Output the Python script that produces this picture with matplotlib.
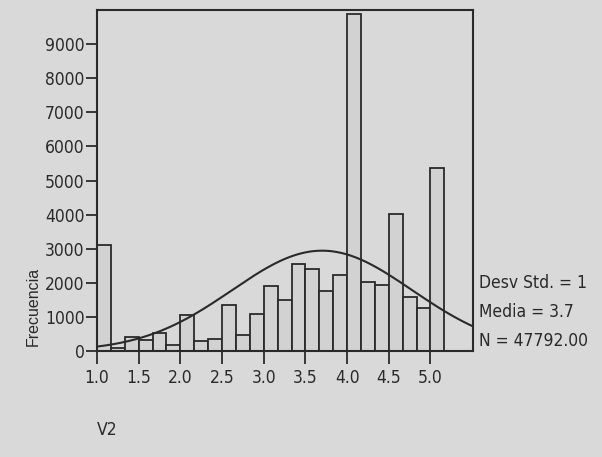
import numpy as np
import matplotlib
matplotlib.use("Agg")
import matplotlib.pyplot as plt

# histogram of V2, bins of width 1/6 starting at 1.0
bin_start = 1.0
bin_width = 1.0 / 6
counts = [3100, 100, 420, 330, 520, 185, 1070, 300, 340, 1345, 460, 1080,
          1920, 1510, 2545, 2410, 1765, 2220, 9870, 2025, 1950, 4025, 1590,
          1250, 5360]
xticks = [1.0, 1.5, 2.0, 2.5, 3.0, 3.5, 4.0, 4.5, 5.0]
yticks = [0, 1000, 2000, 3000, 4000, 5000, 6000, 7000, 8000, 9000]

# stats shown on the right
media = 3.7
desv = 1.08
n_total = 47792

bg = '#d9d9d9'
ink = '#2a2a2a'

plt.rcParams['font.family'] = ['DejaVu Sans']
plt.rcParams['font.stretch'] = 'condensed'
fig = plt.figure(figsize=(6.02, 4.57), dpi=100, facecolor=bg)
ax = fig.add_axes([97/602, 1-351/457, (473-97)/602, (351-10)/457])
ax.set_facecolor(bg)

lefts = bin_start + bin_width*np.arange(len(counts))
ax.bar(lefts, counts, width=bin_width, align='edge', color='#d2d2d2',
       edgecolor=ink, linewidth=1.3, zorder=2)

# normal curve scaled to counts
xs = np.linspace(1.0, 5.51, 300)
ys = n_total*bin_width/(desv*np.sqrt(2*np.pi))*np.exp(-(xs-media)**2/(2*desv**2))
ax.plot(xs, ys, color=ink, linewidth=1.5, zorder=3)

ax.set_xlim(1.0, 5.51)
ax.set_ylim(0, 10000)
ax.set_xticks(xticks)
ax.set_xticklabels(['%.1f' % t for t in xticks])
ax.set_yticks(yticks)
for s in ax.spines.values():
    s.set_color(ink)
    s.set_linewidth(1.5)
ax.tick_params(axis='x', direction='out', length=9, width=1.3, color=ink,
               labelsize=12.5, pad=4, labelcolor=ink)
ax.tick_params(axis='y', direction='out', length=8, width=1.3, color=ink,
               labelsize=12.5, pad=1, labelcolor=ink)

fig.text(33/602, 1-306/457, 'Frecuencia', rotation=90, ha='center', va='center',
         fontsize=11.5, color=ink, family='Liberation Sans', stretch='normal')
fig.text(97/602, 1-430/457, 'V2', ha='left', va='center', fontsize=12.5, color=ink)

stats = ['Desv Std. = 1', 'Media = %.1f' % media, 'N = %.2f' % n_total]
for i, s in enumerate(stats):
    fig.text(479/602, 1-(283+29*i)/457, s, ha='left', va='center',
             fontsize=12.5, color=ink)

fig.savefig('out.png', dpi=100, facecolor=bg)
